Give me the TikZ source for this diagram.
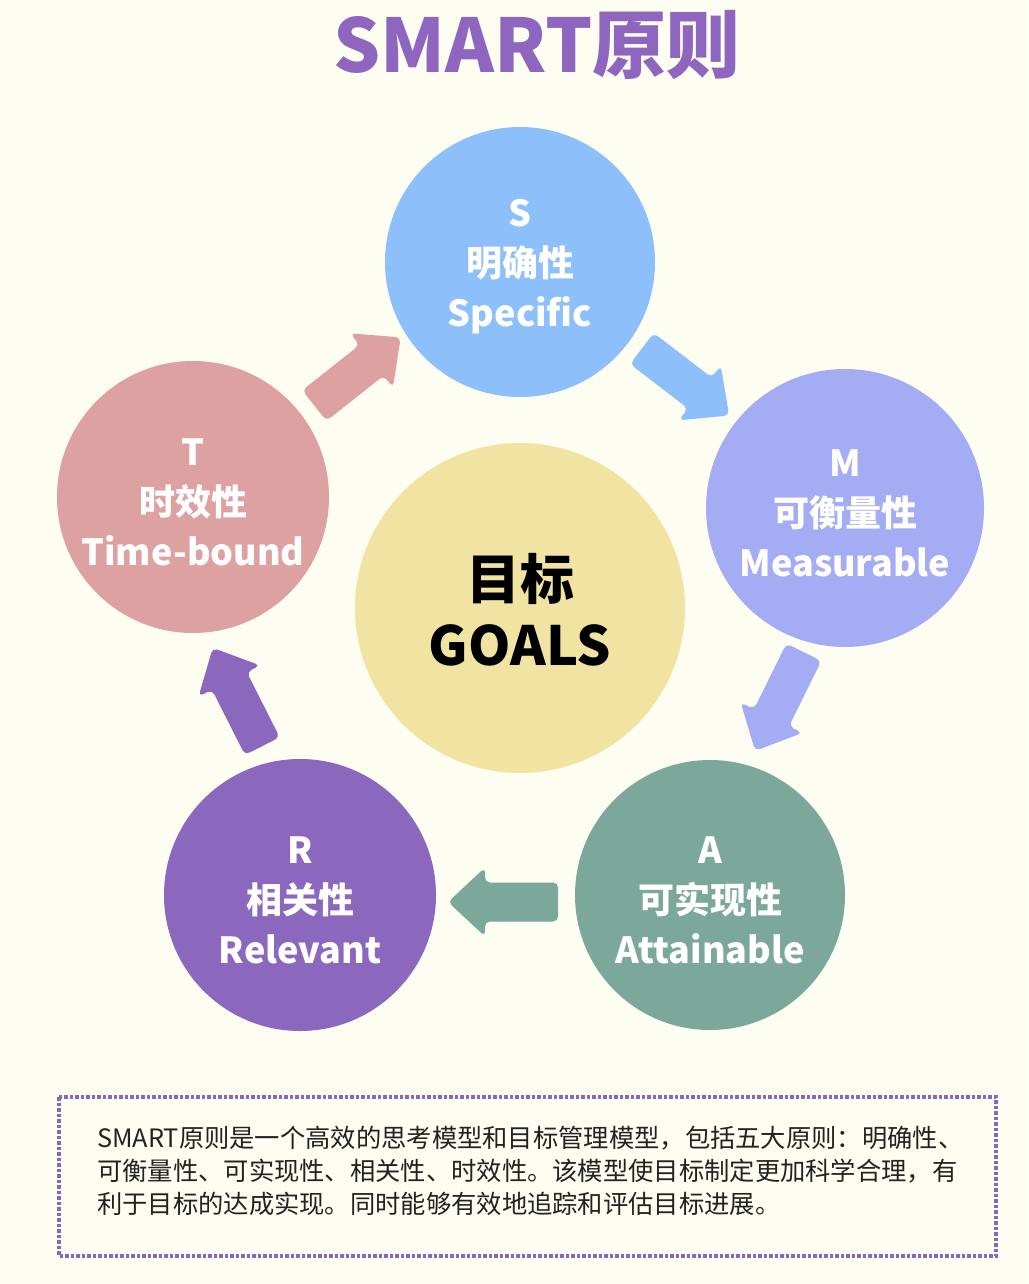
\documentclass[tikz,border=0pt]{standalone}
\usepackage{fontspec}
\setmainfont{Noto Sans CJK SC}
\usetikzlibrary{calc}
\definecolor{bgc}{HTML}{FEFDF2}
\definecolor{sblue}{HTML}{8DBFFB}
\definecolor{mperi}{HTML}{A4ACF4}
\definecolor{ateal}{HTML}{7BA89B}
\definecolor{rpurp}{HTML}{8C67BE}
\definecolor{tpink}{HTML}{DDA1A1}
\definecolor{gyel}{HTML}{F1E4A3}
\definecolor{titlec}{HTML}{8E66C0}
\definecolor{dotc}{HTML}{8A66C2}
\definecolor{txtc}{HTML}{222222}
\tikzset{
  disc/.style={circle, inner sep=0pt, minimum size=#1},
  lbl/.style={text=white, align=center, yshift=-5pt, font=\fontsize{36}{50}\selectfont\bfseries},
  barrow/.pic={\path[pic actions, rounded corners=5pt]
     (-55,-19.5) -- (18,-19.5) -- (18,-34.5) -- (55,0) -- (18,34.5) -- (18,19.5) -- (-55,19.5) -- cycle;}
}
\begin{document}
\begin{tikzpicture}[x=1pt,y=-1pt]
\useasboundingbox (0,0) rectangle (1028,1284);
\fill[bgc] (0,0) rectangle (1028,1284);
% title
\node[text=titlec, font=\fontsize{74}{80}\selectfont\bfseries] (title) at (537,45) {SMART原则};
% circles
\node[disc=270, fill=sblue] (S) at (520,262) {};
\node[disc=278, fill=mperi] (M) at (845,508) {};
\node[disc=270, fill=ateal] (A) at (710,895) {};
\node[disc=272, fill=rpurp] (R) at (300,895) {};
\node[disc=272, fill=tpink] (T) at (193,497) {};
\node[disc=330, fill=gyel] (G) at (520,608) {};
% labels
\node[lbl] (St) at (S) {S\\明确性\\Specific};
\node[lbl] (Mt) at (M) {M\\可衡量性\\Measurable};
\node[lbl] (At) at (A) {A\\可实现性\\Attainable};
\node[lbl] (Rt) at (R) {R\\相关性\\Relevant};
\node[lbl] (Tt) at (T) {T\\时效性\\Time-bound};
\node[text=black, align=center, yshift=-2pt, font=\fontsize{54}{66}\selectfont\bfseries] (Gt) at (G) {目标\\GOALS};
% arrows
\pic[fill=sblue, rotate=-37.5] at ($(S)!0.5!(M)+(3,-3)$) {barrow};
\pic[fill=mperi, rotate=-116.3] at ($(M)!0.5!(A)+(2,0)$) {barrow};
\pic[fill=ateal, rotate=180] at ($(A)!0.5!(R)+(-2,7)$) {barrow};
\pic[fill=rpurp, rotate=116.8] at ($(R)!0.5!(T)+(-9,1)$) {barrow};
\pic[fill=tpink, rotate=38.3] at ($(T)!0.5!(S)+(1,-8)$) {barrow};
% description box
\draw[dotc, line width=4.5pt, dash pattern=on 3.5pt off 2pt] (59,1097) rectangle (996,1256);
\node[anchor=north west, text=txtc, align=left, inner sep=0pt, font=\fontsize{25.3}{33}\selectfont] (desc) at (97,1126)
 {SMART原则是一个高效的思考模型和目标管理模型，包括五大原则：明确性、\\
  可衡量性、可实现性、相关性、时效性。该模型使目标制定更加科学合理，有\\
  利于目标的达成实现。同时能够有效地追踪和评估目标进展。};
\end{tikzpicture}
\end{document}
